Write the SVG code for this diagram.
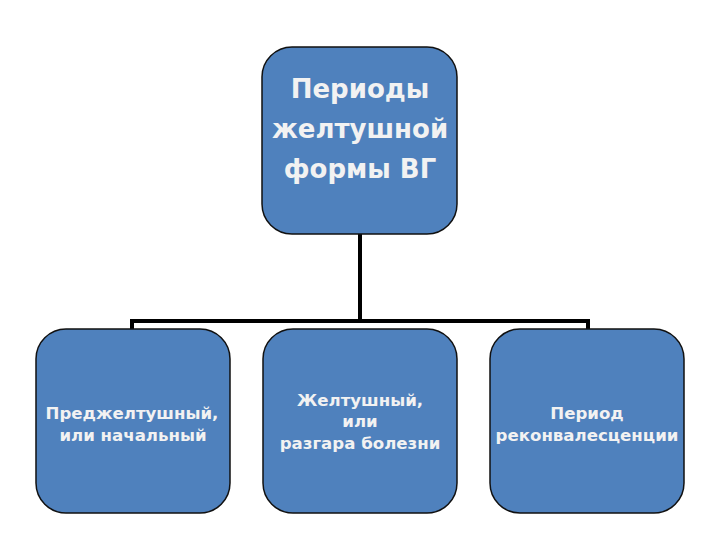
<svg xmlns="http://www.w3.org/2000/svg" width="720" height="540" viewBox="0 0 720 540">
<style>
.box{fill:#4f81bd;stroke:#111;stroke-width:1.5}
.t{font-family:"DejaVu Sans","Liberation Sans",sans-serif;font-weight:bold;fill:#f2f2f2;text-anchor:middle}
.big{font-size:26px}
.sm{font-size:16.6px}
.c{fill:none;stroke:#000;stroke-width:4}
</style>
<rect width="720" height="540" fill="#fff"/>
<g id="connectors">
<path class="c" d="M360 234 V321"/>
<path class="c" d="M132 330 V321 H588 V330"/>
</g>
<g id="root">
<rect class="box" x="262" y="47" width="195" height="187" rx="30"/>
<text class="t big" x="360" y="98">Периоды</text>
<text class="t big" x="360" y="138">желтушной</text>
<text class="t big" x="360" y="178">формы ВГ</text>
</g>
<g id="n1">
<rect class="box" x="36" y="329" width="194" height="184" rx="30"/>
<text class="t sm" x="132" y="419">Преджелтушный,</text>
<text class="t sm" x="133" y="441">или начальный</text>
</g>
<g id="n2">
<rect class="box" x="263" y="329" width="194" height="184" rx="30"/>
<text class="t sm" x="360" y="406">Желтушный,</text>
<text class="t sm" x="360" y="427">или</text>
<text class="t sm" x="360" y="449">разгара болезни</text>
</g>
<g id="n3">
<rect class="box" x="490" y="329" width="194" height="184" rx="30"/>
<text class="t sm" x="587" y="419">Период</text>
<text class="t sm" x="587" y="441">реконвалесценции</text>
</g>
</svg>
